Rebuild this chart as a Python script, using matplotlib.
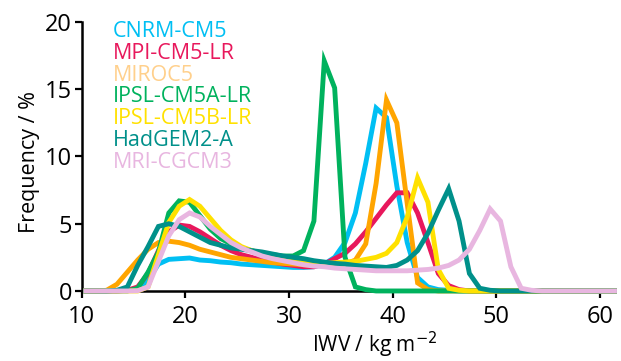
import numpy as np
import matplotlib
matplotlib.use("Agg")
import matplotlib.pyplot as plt

# bin centres of the IWV histograms (kg m-2)
iwv = np.arange(10, 62) + 0.4

models = ["CNRM-CM5", "MPI-CM5-LR", "MIROC5", "IPSL-CM5A-LR",
          "IPSL-CM5B-LR", "HadGEM2-A", "MRI-CGCM3"]

cnrm = [0, 0, 0, 0, 0.05, 0.1, 0.8, 2.0, 2.35, 2.4, 2.45, 2.3, 2.25, 2.15,
        2.1, 2.0, 1.95, 1.9, 1.85, 1.8, 1.75, 1.75, 1.8, 2.0, 2.5, 3.6,
        5.8, 9.5, 13.6, 12.9, 7.8, 3.6, 1.0, 0.3, 0.1, 0.05, 0, 0, 0, 0,
        0, 0, 0, 0, 0, 0, 0, 0, 0, 0, 0, 0]
mpi = [0, 0, 0, 0, 0.05, 0.3, 1.3, 3.0, 4.4, 4.9, 4.8, 4.4, 3.9, 3.4,
       3.0, 2.7, 2.5, 2.3, 2.15, 2.0, 1.9, 1.8, 1.8, 2.0, 2.4, 2.8,
       3.5, 4.4, 5.4, 6.4, 7.3, 7.3, 5.8, 3.6, 1.3, 0.4, 0.1, 0, 0, 0,
       0, 0, 0, 0, 0, 0, 0, 0, 0, 0, 0, 0]
miroc = [0, 0, 0.05, 0.5, 1.4, 2.3, 3.1, 3.6, 3.7, 3.6, 3.4, 3.1, 2.9,
         2.7, 2.5, 2.4, 2.3, 2.2, 2.1, 2.05, 2.0, 1.95, 1.9, 1.9, 1.9,
         2.0, 2.3, 3.5, 8.0, 14.2, 12.5, 6.5, 0.6, 0.1, 0, 0, 0, 0, 0,
         0, 0, 0, 0, 0, 0, 0, 0, 0, 0, 0, 0, 0]
ipsl_a = [0, 0, 0, 0, 0, 0.2, 1.4, 2.9, 5.8, 6.7, 6.6, 5.6, 4.6, 3.9,
          3.5, 3.2, 3.0, 2.8, 2.7, 2.6, 2.6, 3.0, 5.2, 17.1, 15.1, 2.5,
          0.3, 0.1, 0, 0, 0, 0, 0, 0, 0, 0, 0, 0, 0, 0, 0, 0, 0, 0, 0,
          0, 0, 0, 0, 0, 0, 0]
ipsl_b = [0, 0, 0, 0, 0, 0, 0.3, 2.7, 5.1, 6.3, 6.8, 6.3, 5.4, 4.5,
          3.8, 3.3, 3.0, 2.7, 2.5, 2.35, 2.25, 2.1, 2.05, 2.05, 2.1, 2.15,
          2.2, 2.35, 2.5, 2.8, 3.6, 5.5, 8.4, 6.6, 1.6, 0.2, 0.05, 0, 0,
          0, 0, 0, 0, 0, 0, 0, 0, 0, 0, 0, 0, 0]
hadgem = [0, 0, 0, 0.05, 0.3, 1.9, 3.3, 4.8, 5.0, 4.8, 4.4, 4.0, 3.6,
          3.4, 3.2, 3.1, 3.0, 2.9, 2.75, 2.6, 2.5, 2.4, 2.25, 2.15, 2.05,
          2.0, 1.9, 1.85, 1.8, 1.75, 1.9, 2.3, 3.0, 4.3, 6.0, 7.6, 5.2,
          1.3, 0.2, 0.05, 0, 0, 0, 0, 0, 0, 0, 0, 0, 0, 0, 0]
mri = [0, 0, 0, 0, 0, 0.02, 0.3, 2.2, 4.1, 5.3, 5.8, 5.5, 4.8, 4.2,
       3.6, 3.2, 2.9, 2.6, 2.4, 2.25, 2.1, 1.95, 1.85, 1.8, 1.7, 1.65,
       1.6, 1.55, 1.5, 1.5, 1.5, 1.5, 1.55, 1.6, 1.7, 1.9, 2.3, 3.1,
       4.5, 6.1, 5.2, 1.8, 0.2, 0.05, 0, 0, 0, 0, 0, 0, 0, 0]

series = [cnrm, mpi, miroc, ipsl_a, ipsl_b, hadgem, mri]
line_colors = ["#00bff3", "#e8185c", "#ffa500", "#00b25d",
               "#ffe100", "#00908a", "#e8b6e0"]
text_colors = ["#00bff3", "#e8185c", "#ffd08c", "#00b25d",
               "#ffe100", "#00908a", "#e8b6e0"]

plt.rcParams['font.family'] = ['Open Sans', 'DejaVu Sans']

fig = plt.figure(figsize=(6.21, 3.61), dpi=100)
ax = fig.add_axes([0.1316, 0.194, 0.8346, 0.745])

for i, (vals, c) in enumerate(zip(series, line_colors)):
    ax.plot(iwv, vals, color=c, lw=3.5, clip_on=False, zorder=2 + i,
            solid_joinstyle='miter')

for i, (name, c) in enumerate(zip(models, text_colors)):
    ax.text(0.060, 0.965 - i * 0.081, name, color=c, fontsize=15.5,
            transform=ax.transAxes, va='center', ha='left')

ax.set_xlim(10, 60)
ax.set_ylim(0, 20)
ax.set_xticks([10, 20, 30, 40, 50, 60])
ax.set_yticks([0, 5, 10, 15, 20])
ax.spines['top'].set_visible(False)
ax.spines['right'].set_visible(False)
for s in ['left', 'bottom']:
    ax.spines[s].set_linewidth(1.8)
ax.tick_params(direction='out', length=5, width=1.6, labelsize=17)
ax.tick_params(axis='y', pad=2)
ax.tick_params(axis='x', pad=5)

ax.set_xlabel('IWV / kg m$^{-2}$', fontsize=15)
ax.set_ylabel('Frequency / %', fontsize=15.5)
ax.xaxis.set_label_coords(0.566, -0.145)
ax.yaxis.set_label_coords(-0.080, 0.48)

fig.savefig('out.png', dpi=100)
